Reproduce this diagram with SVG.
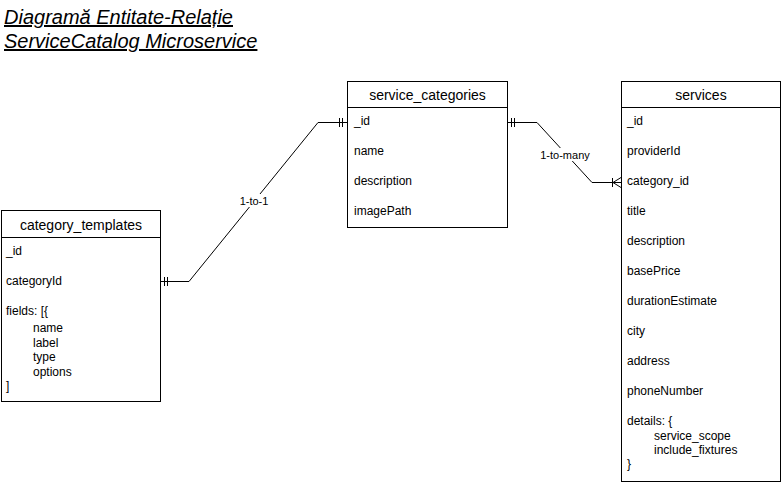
<svg xmlns="http://www.w3.org/2000/svg" width="782" height="485" viewBox="0 0 782 485">
<style>
.box{fill:#fff;stroke:#000;stroke-width:1}
.hd{font-family:"Liberation Sans",Arial,sans-serif;font-size:14px;text-anchor:middle;fill:#000}
.t{font-family:"Liberation Sans",Arial,sans-serif;font-size:12px;fill:#000}
.ttl{font-family:"Liberation Sans",Arial,sans-serif;font-size:20px;font-style:italic;text-decoration:underline;fill:#000}
.ln{fill:none;stroke:#000;stroke-width:1}
.lbl{font-family:"Liberation Sans",Arial,sans-serif;font-size:11px;text-anchor:middle;fill:#000}
</style>
<rect width="782" height="485" fill="#fff"/>
<g id="title">
<text class="ttl" x="4" y="24">Diagramă Entitate-Relație</text>
<text class="ttl" x="4" y="48">ServiceCatalog Microservice</text>
</g>
<g id="connectors">
<path class="ln" d="M160.5 281.5 H189 L318 122.5 H347"/>
<path class="ln" d="M164.5 277 V286 M167.5 277 V286"/>
<path class="ln" d="M339.5 118 V127 M342.5 118 V127"/>
<rect x="238" y="194" width="31" height="13" fill="#fff"/>
<text class="lbl" x="254" y="205">1-to-1</text>
<path class="ln" d="M507 122.5 H537 L592 182.5 H621"/>
<path class="ln" d="M511.5 118 V127 M514.5 118 V127"/>
<path class="ln" d="M612.5 178 V187 M621 177.5 L613 182.5 L621 187.5"/>
<rect x="540" y="148" width="52" height="13" fill="#fff"/>
<text class="lbl" x="565" y="159">1-to-many</text>
</g>
<g id="service_categories">
<rect class="box" x="347.5" y="81.5" width="160" height="146"/>
<line class="ln" x1="347.5" y1="107.5" x2="507.5" y2="107.5"/>
<text class="hd" x="427.5" y="100">service_categories</text>
<text class="t" x="354" y="125">_id</text>
<text class="t" x="354" y="155">name</text>
<text class="t" x="354" y="185">description</text>
<text class="t" x="354" y="215">imagePath</text>
</g>
<g id="services">
<rect class="box" x="621.5" y="81.5" width="159" height="400"/>
<line class="ln" x1="621.5" y1="107.5" x2="780.5" y2="107.5"/>
<text class="hd" x="701" y="100">services</text>
<text class="t" x="627" y="125">_id</text>
<text class="t" x="627" y="155">providerId</text>
<text class="t" x="627" y="185">category_id</text>
<text class="t" x="627" y="215">title</text>
<text class="t" x="627" y="245">description</text>
<text class="t" x="627" y="275">basePrice</text>
<text class="t" x="627" y="305">durationEstimate</text>
<text class="t" x="627" y="335">city</text>
<text class="t" x="627" y="365">address</text>
<text class="t" x="627" y="395">phoneNumber</text>
<text class="t" x="627" y="425">details: {</text>
<text class="t" x="654" y="440">service_scope</text>
<text class="t" x="654" y="454">include_fixtures</text>
<text class="t" x="627" y="468">}</text>
</g>
<g id="category_templates">
<rect class="box" x="1.5" y="210.5" width="159" height="191"/>
<line class="ln" x1="1.5" y1="237.5" x2="160.5" y2="237.5"/>
<text class="hd" x="81" y="230">category_templates</text>
<text class="t" x="6" y="255">_id</text>
<text class="t" x="6" y="285">categoryId</text>
<text class="t" x="6" y="315">fields: [{</text>
<text class="t" x="33" y="332">name</text>
<text class="t" x="33" y="347">label</text>
<text class="t" x="33" y="361">type</text>
<text class="t" x="33" y="376">options</text>
<text class="t" x="6" y="390">]</text>
</g>
</svg>
